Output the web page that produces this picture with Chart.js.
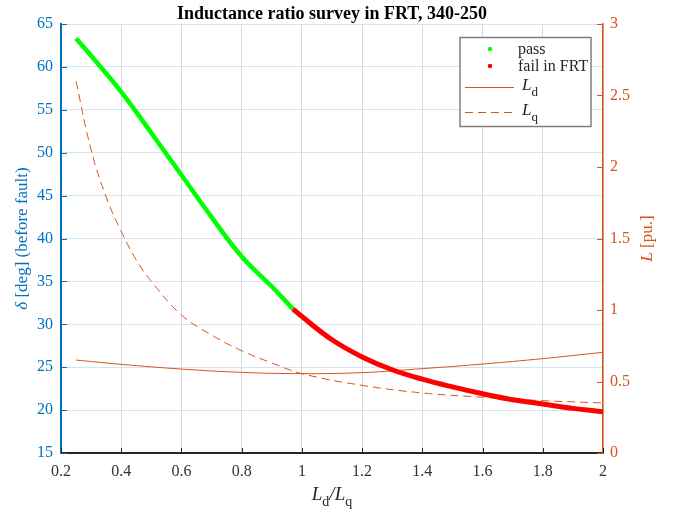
<!DOCTYPE html>
<html>
<head>
<meta charset="utf-8">
<script src="https://cdn.jsdelivr.net/npm/chart.js@4.4.1/dist/chart.umd.min.js"></script>
<style>
  html, body { margin: 0; padding: 0; background: #fff; }
  #wrap { width: 679px; height: 514px; }
</style>
</head>
<body>
<div id="wrap"><canvas id="ratioChart" width="679" height="514"></canvas></div>
<script>
// Ld/Lq sweep: load angle before the fault, split by FRT outcome
const passRatio = [0.25, 0.3, 0.4, 0.5, 0.6, 0.7, 0.8, 0.9, 0.97]
const passDelta = [63.3, 61.3, 57.1, 52.3, 47.4, 42.5, 37.9, 34.4, 31.8]
const failRatio = [0.97, 1.0, 1.1, 1.2, 1.3, 1.4, 1.5, 1.6, 1.7, 1.8, 1.9, 2.0]
const failDelta = [31.8, 30.9, 28.2, 26.2, 24.7, 23.6, 22.7, 21.9, 21.2, 20.7, 20.2, 19.8]

// inductances on the right axis
const ldRatio = [0.25, 0.4, 0.6, 0.8, 1.0, 1.2, 1.4, 1.6, 1.8, 2.0]
const ldValues = [0.65, 0.62, 0.587, 0.564, 0.555, 0.562, 0.59, 0.622, 0.66, 0.704]
const lqRatio = [0.25, 0.3, 0.35, 0.4, 0.45, 0.5, 0.6, 0.7, 0.8, 0.9, 1.0, 1.2, 1.4, 1.6, 1.8, 2.0]
const lqValues = [2.6, 2.12, 1.79, 1.55, 1.35, 1.2, 0.965, 0.825, 0.715, 0.63, 0.555, 0.473, 0.42, 0.39, 0.366, 0.35]

// tick values
const xTicks = [0.2, 0.4, 0.6, 0.8, 1, 1.2, 1.4, 1.6, 1.8, 2]
const deltaTicks = [15, 20, 25, 30, 35, 40, 45, 50, 55, 60, 65]
const lTicks = [0, 0.5, 1, 1.5, 2, 2.5, 3]

const BLUE = '#0072BD'
const ORANGE = '#D95319'
const SERIF = '"Liberation Serif", "Times New Roman", serif'

const toPoints = (xs, ys) => xs.map((x, i) => ({ x: x, y: ys[i] }))
const fixTicks = values => scale => {
  scale.ticks = values.map(v => ({ value: v }))
}
const fmt = v => String(+v.toFixed(2))

// draws title, axis labels with subscripts, inward tick marks and legend
const decorations = {
  id: 'decorations',
  afterDraw(chart) {
    const ctx = chart.ctx
    const area = chart.chartArea
    const sx = chart.scales.x
    const yl = chart.scales.yL
    const yr = chart.scales.yR
    ctx.save()

    // inward tick marks
    ctx.lineWidth = 1
    ctx.strokeStyle = '#262626'
    xTicks.forEach(v => {
      const px = Math.round(sx.getPixelForValue(v)) + 0.5
      ctx.beginPath()
      ctx.moveTo(px, area.bottom)
      ctx.lineTo(px, area.bottom - 5)
      ctx.stroke()
    })
    ctx.strokeStyle = BLUE
    deltaTicks.forEach(v => {
      const py = Math.round(yl.getPixelForValue(v)) + 0.5
      ctx.beginPath()
      ctx.moveTo(area.left, py)
      ctx.lineTo(area.left + 6, py)
      ctx.stroke()
    })
    ctx.strokeStyle = ORANGE
    lTicks.forEach(v => {
      const py = Math.round(yr.getPixelForValue(v)) + 0.5
      ctx.beginPath()
      ctx.moveTo(area.right, py)
      ctx.lineTo(area.right - 6, py)
      ctx.stroke()
    })

    const cx = (area.left + area.right) / 2

    // title
    ctx.fillStyle = '#000'
    ctx.font = 'bold 18px ' + SERIF
    ctx.textAlign = 'center'
    ctx.textBaseline = 'alphabetic'
    ctx.fillText('Inductance ratio survey in FRT, 340-250', cx, 19)

    // x label: Ld/Lq
    const big = 'italic 19px ' + SERIF
    const sub = '14px ' + SERIF
    const parts = [
      { t: 'L', f: big, dy: 0 },
      { t: 'd', f: sub, dy: 6 },
      { t: '/', f: big, dy: 0 },
      { t: 'L', f: big, dy: 0 },
      { t: 'q', f: sub, dy: 6 }
    ]
    let total = 0
    parts.forEach(p => { ctx.font = p.f; p.w = ctx.measureText(p.t).width; total += p.w })
    let px = cx - total / 2
    ctx.textAlign = 'left'
    ctx.fillStyle = '#262626'
    parts.forEach(p => {
      ctx.font = p.f
      ctx.fillText(p.t, px, 500 + p.dy)
      px += p.w
    })

    // left y label
    ctx.save()
    ctx.translate(23, (area.top + area.bottom) / 2)
    ctx.rotate(-Math.PI / 2)
    ctx.fillStyle = BLUE
    ctx.textBaseline = 'middle'
    const lp = [
      { t: '\u03b4', f: 'italic 17px ' + SERIF },
      { t: ' [deg] (before fault)', f: '17px ' + SERIF }
    ]
    total = 0
    lp.forEach(p => { ctx.font = p.f; p.w = ctx.measureText(p.t).width; total += p.w })
    px = -total / 2
    lp.forEach(p => { ctx.font = p.f; ctx.fillText(p.t, px, 0); px += p.w })
    ctx.restore()

    // right y label
    ctx.save()
    ctx.translate(648, (area.top + area.bottom) / 2)
    ctx.rotate(-Math.PI / 2)
    ctx.fillStyle = ORANGE
    ctx.textBaseline = 'middle'
    const rp = [
      { t: 'L', f: 'italic 17px ' + SERIF },
      { t: ' [pu.]', f: '17px ' + SERIF }
    ]
    total = 0
    rp.forEach(p => { ctx.font = p.f; p.w = ctx.measureText(p.t).width; total += p.w })
    px = -total / 2
    rp.forEach(p => { ctx.font = p.f; ctx.fillText(p.t, px, 0); px += p.w })
    ctx.restore()

    // legend
    const lx = 460, ly = 37.5, lw = 131, lh = 89
    ctx.fillStyle = '#fff'
    ctx.fillRect(lx, ly, lw, lh)
    ctx.strokeStyle = '#7f7f7f'
    ctx.lineWidth = 1.5
    ctx.strokeRect(lx, ly, lw, lh)

    ctx.textBaseline = 'middle'
    ctx.fillStyle = '#00ff00'
    ctx.beginPath(); ctx.arc(490, 49, 2.2, 0, Math.PI * 2); ctx.fill()
    ctx.fillStyle = '#ff0000'
    ctx.beginPath(); ctx.arc(490, 66, 2.2, 0, Math.PI * 2); ctx.fill()

    ctx.fillStyle = '#262626'
    ctx.font = '16px ' + SERIF
    ctx.fillText('pass', 518, 50)
    ctx.fillText('fail in FRT', 518, 67)

    ctx.strokeStyle = ORANGE
    ctx.lineWidth = 1
    ctx.beginPath(); ctx.moveTo(465, 87.5); ctx.lineTo(514, 87.5); ctx.stroke()
    ctx.setLineDash([8, 5])
    ctx.beginPath(); ctx.moveTo(465, 112.5); ctx.lineTo(514, 112.5); ctx.stroke()
    ctx.setLineDash([])

    const legendSub = (sym, y) => {
      ctx.textBaseline = 'alphabetic'
      ctx.font = 'italic 17px ' + SERIF
      ctx.fillText('L', 522, y)
      const w = ctx.measureText('L').width
      ctx.font = '13px ' + SERIF
      ctx.fillText(sym, 522 + w, y + 6)
    }
    legendSub('d', 90)
    legendSub('q', 115)

    ctx.restore()
  }
}

new Chart(document.getElementById('ratioChart'), {
  type: 'line',
  data: {
    datasets: [
      {
        label: 'pass',
        data: toPoints(passRatio, passDelta),
        yAxisID: 'yL',
        borderColor: '#00ff00',
        borderWidth: 4.5,
        pointRadius: 0,
        tension: 0.4
      },
      {
        label: 'fail in FRT',
        data: toPoints(failRatio, failDelta),
        yAxisID: 'yL',
        borderColor: '#ff0000',
        borderWidth: 5,
        pointRadius: 0,
        tension: 0.4
      },
      {
        label: 'Ld',
        data: toPoints(ldRatio, ldValues),
        yAxisID: 'yR',
        borderColor: ORANGE,
        borderWidth: 1,
        pointRadius: 0,
        tension: 0.4
      },
      {
        label: 'Lq',
        data: toPoints(lqRatio, lqValues),
        yAxisID: 'yR',
        borderColor: ORANGE,
        borderWidth: 1,
        borderDash: [8, 5],
        pointRadius: 0,
        tension: 0.4
      }
    ]
  },
  options: {
    responsive: false,
    animation: false,
    layout: { padding: { top: 24, left: 0, right: 0, bottom: 0 } },
    plugins: {
      legend: { display: false },
      title: { display: false },
      tooltip: { enabled: false }
    },
    scales: {
      x: {
        type: 'linear',
        min: 0.2,
        max: 2,
        afterBuildTicks: fixTicks(xTicks),
        afterFit: s => { s.height = 61 },
        grid: { color: '#d5d9de', drawTicks: false },
        border: { color: '#262626', width: 2 },
        ticks: {
          color: '#333',
          padding: 9,
          maxRotation: 0,
          font: { family: SERIF, size: 16 },
          callback: v => fmt(v)
        }
      },
      yL: {
        type: 'linear',
        position: 'left',
        min: 15,
        max: 65,
        afterBuildTicks: fixTicks(deltaTicks),
        afterFit: s => { s.width = 61 },
        grid: { color: '#d3e5f3', drawTicks: false },
        border: { color: BLUE, width: 2 },
        ticks: {
          color: BLUE,
          padding: 8,
          font: { family: SERIF, size: 16 },
          callback: v => fmt(v)
        }
      },
      yR: {
        type: 'linear',
        position: 'right',
        min: 0,
        max: 3,
        afterBuildTicks: fixTicks(lTicks),
        afterFit: s => { s.width = 76 },
        grid: { display: false, drawTicks: false },
        border: { color: ORANGE, width: 1.5 },
        ticks: {
          color: ORANGE,
          padding: 7,
          font: { family: SERIF, size: 16 },
          callback: v => fmt(v)
        }
      }
    }
  },
  plugins: [decorations]
})
</script>
</body>
</html>
